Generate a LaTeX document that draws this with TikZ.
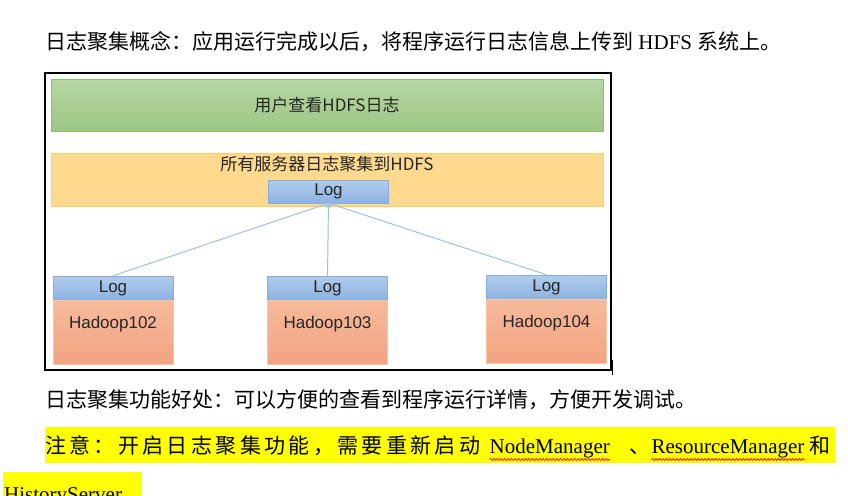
\documentclass[tikz,border=0pt]{standalone}
\usepackage{fontspec}
\setmainfont{Liberation Serif}
\setsansfont{Liberation Sans}
\newfontfamily\cjk{Noto Sans CJK SC}
\newfontfamily\cjkwide{Noto Sans CJK SC}[LetterSpace=16]
\usetikzlibrary{positioning,arrows.meta,decorations.pathmorphing}
\definecolor{userTop}{HTML}{B6D6A2}
\definecolor{userBot}{HTML}{9CC783}
\definecolor{userLine}{HTML}{8DBF73}
\definecolor{poolFill}{HTML}{FFD98E}
\definecolor{poolLine}{HTML}{FFCD5E}
\definecolor{logTop}{HTML}{B0CCEB}
\definecolor{logBot}{HTML}{8DB3E2}
\definecolor{logLine}{HTML}{86AEDD}
\definecolor{hostTop}{HTML}{F6BA9C}
\definecolor{hostBot}{HTML}{F3A381}
\definecolor{hostLine}{HTML}{F8C6A4}
\definecolor{flowBlue}{HTML}{9DC3E6}
\definecolor{hiYellow}{HTML}{FFFF00}
\tikzstyle{para} = [inner sep=0pt, anchor=base west, font=\fontsize{21}{25}\selectfont]
\tikzstyle{band} = [rectangle, minimum width=552pt, inner sep=0pt,
    font=\cjk\fontsize{17}{20}\selectfont, text=black!85]
\tikzstyle{logbox} = [rectangle, draw=logLine, top color=logTop, bottom color=logBot,
    minimum width=120pt, minimum height=24pt, inner sep=0pt,
    font=\sffamily\fontsize{17}{20}\selectfont, text=black!85]
\tikzstyle{hostbox} = [rectangle, draw=hostLine, top color=hostTop, bottom color=hostBot,
    minimum width=120pt, minimum height=64pt, inner sep=0pt,
    text height=23.7pt, text depth=32.3pt,
    font=\sffamily\fontsize{17}{20}\selectfont, text=black!85]
\tikzstyle{flow} = [draw=flowBlue, line width=1pt, -{Stealth[length=5pt,width=5pt]}]
\tikzstyle{wavy} = [draw=red, line width=0.7pt, decorate,
    decoration={snake, amplitude=1pt, segment length=3.5pt}]

\begin{document}
\begin{tikzpicture}[x=1pt, y=-1pt]
\useasboundingbox (0,0) rectangle (848,495);
\fill[white] (0,0) rectangle (848,495);
\node[para] (concept) at (45,49) {{\cjk 日志聚集概念：应用运行完成以后，将程序运行日志信息上传到} HDFS {\cjk 系统上。}};

\node[draw, line width=2.4pt, minimum width=566pt, minimum height=297pt, inner sep=0pt] (frame) at (328,221.5) {};
\draw[line width=1.6pt] (612.5,360) -- (612.5,375);
\node[band, draw=userLine, top color=userTop, bottom color=userBot, minimum height=52pt] (user) at (327,105.5) {用户查看HDFS日志};
\node[band, draw=poolLine, fill=poolFill, minimum height=53pt, text height=14pt, text depth=33pt] (pool) at (327,179.5) {所有服务器日志聚集到HDFS};
\node[logbox, minimum height=23pt] (logtop) at (328.5,191.5) {Log};

\node[logbox] (log102) at (113,288) {Log};
\node[hostbox, below=0pt of log102] (h102) {Hadoop102};
\node[logbox] (log103) at (327.5,288) {Log};
\node[hostbox, below=0pt of log103] (h103) {Hadoop103};
\node[logbox] (log104) at (546.5,287) {Log};
\node[hostbox, below=0pt of log104] (h104) {Hadoop104};

\draw[flow] (log102.north) -- (logtop.south);
\draw[flow] (log103.north) -- (logtop.south);
\draw[flow] (log104.north) -- (logtop.south);

\node[para] (benefit) at (45,407) {\cjk 日志聚集功能好处：可以方便的查看到程序运行详情，方便开发调试。};

\fill[hiYellow] (45,427) rectangle (835,463);
\node[para] (note) at (45,453) {\cjkwide 注意：开启日志聚集功能，需要重新启动};
\node[para] (nm) at ([xshift=9pt]note.base east) {NodeManager};
\node[para] (dun) at ([xshift=19pt]nm.base east) {\cjk 、};
\node[para] (rm) at ([xshift=1pt]dun.base east) {ResourceManager};
\node[para] (he) at ([xshift=5pt]rm.base east) {\cjk 和};
\draw[wavy] ([yshift=-6.5pt]nm.base west) -- ([yshift=-6.5pt]nm.base east);
\draw[wavy] ([yshift=-6.5pt]rm.base west) -- ([yshift=-6.5pt]rm.base east);

\fill[hiYellow] (3,472) rectangle (142,500);
\node[para] (hist) at (4,501) {HistoryServer{\cjk 。}};
\end{tikzpicture}
\end{document}
